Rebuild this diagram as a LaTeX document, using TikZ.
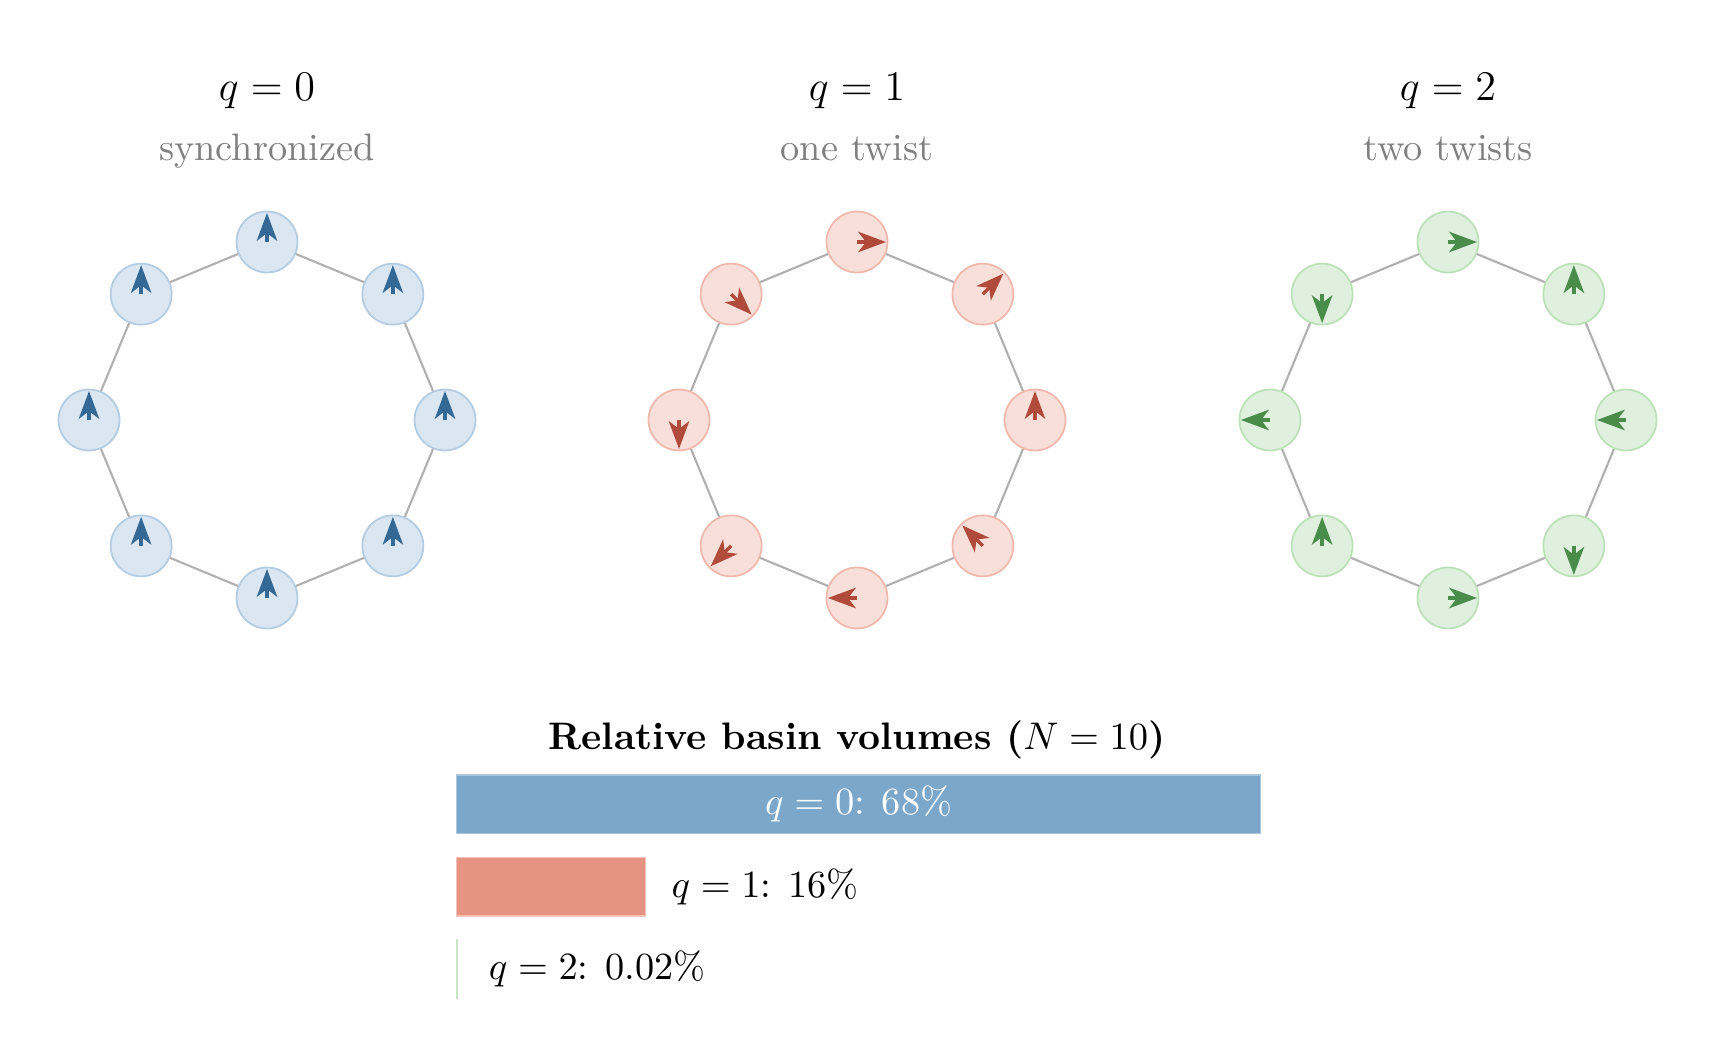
\documentclass[tikz,border=0pt]{standalone}
\usepackage{amsmath}
\usetikzlibrary{arrows.meta,positioning}
\definecolor{q0fill}{HTML}{DAE6F1}
\definecolor{q0edge}{HTML}{B3CCE2}
\definecolor{q0spin}{HTML}{346895}
\definecolor{q0bar}{HTML}{7BA7CB}
\definecolor{q0line}{HTML}{A9C6DE}
\definecolor{q1fill}{HTML}{F8DFDA}
\definecolor{q1edge}{HTML}{F0B8AC}
\definecolor{q1spin}{HTML}{B04A3B}
\definecolor{q1bar}{HTML}{E69384}
\definecolor{q1line}{HTML}{F3C1B8}
\definecolor{q2fill}{HTML}{DFF0DE}
\definecolor{q2edge}{HTML}{BCE1B8}
\definecolor{q2spin}{HTML}{4A8D4A}
\definecolor{q2line}{HTML}{C8E6C4}
\definecolor{linkgray}{HTML}{B0B0B0}
\definecolor{subgray}{HTML}{808080}

\begin{document}
\begin{tikzpicture}[
  font=\fontsize{10.9}{13}\selectfont,
  osc/.style={circle,minimum size=0.61cm,inner sep=0pt,line width=0.5pt},
  link/.style={draw=linkgray,line width=0.6pt},
  spin/.style={line width=1pt,-{Stealth[length=7.9pt,width=5.8pt,inset=2.2pt]}},
  bar/.style={anchor=south west,inner sep=0pt,line width=0.4pt,minimum height=0.586cm},
  barlabel/.style={inner sep=0pt}
]
\useasboundingbox (0,0) rectangle (17.16,10.61);

% One ring of eight oscillators per winding number.
\foreach \q/\cx/\off/\sub in {0/2.67/90/synchronized,1/8.57/90/one twist,2/14.48/180/two twists}{
  \node[anchor=base,font=\fontsize{12}{14}\selectfont] (title\q) at (\cx,9.60) {$q=\q$};
  \node[anchor=base,text=subgray] (sub\q) at (\cx,9.01) {\sub};
  \begin{scope}[shift={(\cx,6.41)}]
    \foreach \k in {0,...,7}{
      \node[osc,fill=q\q fill,draw=q\q edge] (o\q-\k) at (45*\k:1.78) {};
    }
    \foreach \k [evaluate=\k as \n using {int(mod(\k+1,8))}] in {0,...,7}{
      \draw[link] (o\q-\k) -- (o\q-\n);
    }
    \foreach \k in {0,...,7}{
      \pgfmathsetmacro\dir{\off-\q*45*\k}
      \draw[spin,draw=q\q spin] (o\q-\k.center) -- ++(\dir:0.29);
    }
  \end{scope}
}

% Basin volume bars.
\node[anchor=base] (basinTitle) at (8.57,3.12) {\textbf{Relative basin volumes ($N=10$)}};
\node[bar,fill=q0bar,draw=q0line,minimum width=8.04cm] (bar0) at (4.56,2.267) {};
\node[barlabel,text=white] (lab0) at (bar0.center) {$q=0$: 68\%};
\node[bar,fill=q1bar,draw=q1line,minimum width=1.89cm] (bar1) at (4.56,1.443) {};
\node[barlabel,right=0.245cm of bar1] (lab1) {$q=1$: 16\%};
\node[bar,fill=q2line,draw=q2line,minimum width=0.0024cm] (bar2) at (4.56,0.62) {};
\node[barlabel,right=0.305cm of bar2] (lab2) {$q=2$: 0.02\%};
\end{tikzpicture}
\end{document}
